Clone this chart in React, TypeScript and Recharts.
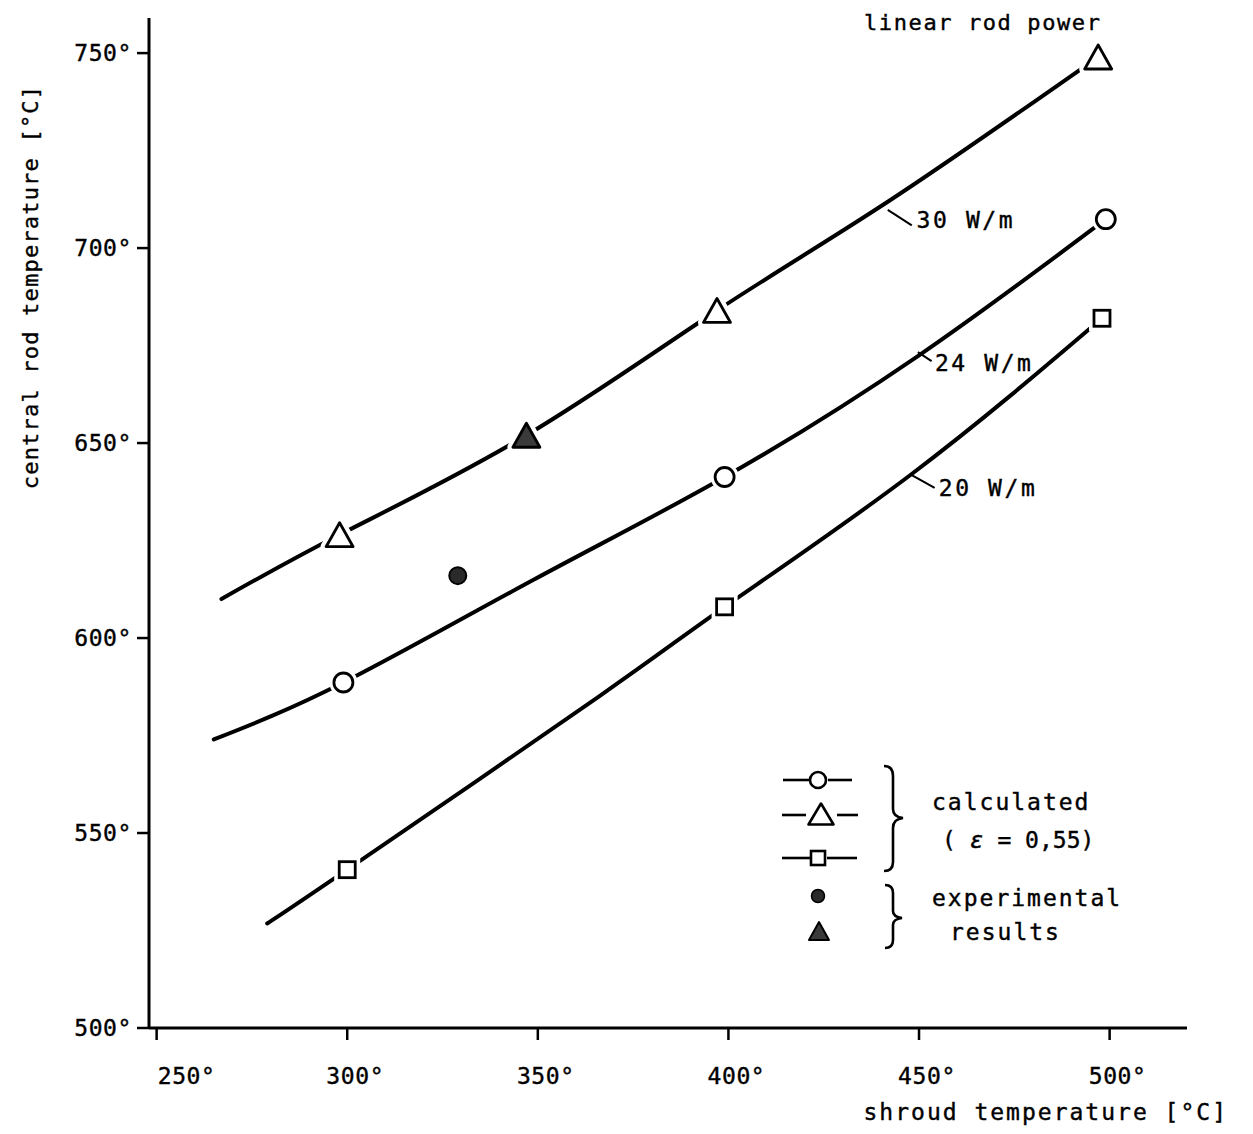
import React from 'react';
import {
  ComposedChart,
  Line,
  Scatter,
  XAxis,
  YAxis,
  ReferenceLine,
  ReferenceDot,
} from 'recharts';

// axis ticks
const shroudTicks = [250, 300, 350, 400, 450, 500];
const rodTicks = [500, 550, 600, 650, 700, 750];

// calculated curves (shroud temp -> central rod temp)
const w30Shroud = [267, 298, 347, 397, 442, 497];
const w30Rod = [610, 626.5, 652, 684, 712, 749];
const w24Shroud = [265, 299, 349, 399, 450, 499];
const w24Rod = [574, 588.6, 615, 641.3, 672.5, 707.4];
const w20Shroud = [279, 300, 366, 399, 448, 498];
const w20Rod = [526.8, 540.6, 585, 608, 642, 682];

// calculated markers
const calcCircleShroud = [299, 399, 499];
const calcCircleRod = [588.6, 641.3, 707.4];
const calcTriShroud = [298, 397, 497];
const calcTriRod = [626.5, 684, 749];
const calcSquareShroud = [300, 399, 498];
const calcSquareRod = [540.6, 608, 682];

// experimental results
const expCircleShroud = [329];
const expCircleRod = [616];
const expTriShroud = [347];
const expTriRod = [652];

// curve labels
const curveLabels = ['30 W/m', '24 W/m', '20 W/m'];

const FONT = '"DejaVu Sans Mono", "Liberation Mono", monospace';

const pts = (xs: number[], ys: number[]) => xs.map((x, i) => ({ x, y: ys[i] }));

const triPath = (cx: number, cy: number, w: number, h: number) =>
  `M${cx},${cy - h / 2} L${cx + w / 2},${cy + h / 2} L${cx - w / 2},${cy + h / 2} Z`;

function OpenTriangle(props: any) {
  const { cx, cy } = props;
  if (cx == null || cy == null) return null;
  const d = triPath(cx, cy, 27, 24);
  return (
    <g>
      <path d={d} fill="#fff" stroke="#fff" strokeWidth={11} strokeLinejoin="round" />
      <path d={d} fill="#fff" stroke="#000" strokeWidth={2.8} strokeLinejoin="round" />
    </g>
  );
}

function FilledTriangle(props: any) {
  const { cx, cy } = props;
  if (cx == null || cy == null) return null;
  const d = triPath(cx, cy, 27, 24);
  return (
    <g>
      <path d={d} fill="#fff" stroke="#fff" strokeWidth={11} strokeLinejoin="round" />
      <path d={d} fill="#3a3a3a" stroke="#000" strokeWidth={2.8} strokeLinejoin="round" />
    </g>
  );
}

function OpenCircle(props: any) {
  const { cx, cy } = props;
  if (cx == null || cy == null) return null;
  return (
    <g>
      <circle cx={cx} cy={cy} r={14} fill="#fff" />
      <circle cx={cx} cy={cy} r={9.5} fill="#fff" stroke="#000" strokeWidth={2.8} />
    </g>
  );
}

function FilledCircle(props: any) {
  const { cx, cy } = props;
  if (cx == null || cy == null) return null;
  return <circle cx={cx} cy={cy} r={8.5} fill="#2a2a2a" stroke="#000" strokeWidth={2} />;
}

function OpenSquare(props: any) {
  const { cx, cy } = props;
  if (cx == null || cy == null) return null;
  return (
    <g>
      <rect x={cx - 13} y={cy - 13} width={26} height={26} fill="#fff" />
      <rect x={cx - 8} y={cy - 8} width={16} height={16} fill="#fff" stroke="#000" strokeWidth={2.8} />
    </g>
  );
}

const tickText = { fill: '#000', stroke: '#000', strokeWidth: 0.4, fontSize: 23, fontFamily: FONT, letterSpacing: 0.6 };

function ShroudTick(props: any) {
  const { x, y, payload } = props;
  const dx = payload.value === 250 ? 30 : 8;
  return (
    <text x={x + dx} y={y} dy="0.71em" textAnchor="middle" {...tickText}>
      {`${payload.value}°`}
    </text>
  );
}

function Overlay() {
  const txt = { fontFamily: FONT, fill: '#000', stroke: '#000', strokeWidth: 0.4 } as const;
  return (
    <svg
      width={1253}
      height={1134}
      style={{ position: 'absolute', left: 0, top: 0, pointerEvents: 'none' }}
    >
      <text x={864} y={30} fontSize={22} letterSpacing={1.6} {...txt}>
        linear rod power
      </text>
      <text
        x={0}
        y={0}
        fontSize={22}
        letterSpacing={1.2}
        textAnchor="middle"
        transform="translate(38,287) rotate(-90)"
        {...txt}
      >
        central rod temperature [°C]
      </text>
      <text x={1228} y={1120} fontSize={23} letterSpacing={2} textAnchor="end" {...txt}>
        shroud temperature [°C]
      </text>

      {/* legend */}
      <g stroke="#000" strokeWidth={2.6} fill="none">
        <line x1={783} y1={780} x2={809} y2={780} />
        <line x1={828} y1={780} x2={852} y2={780} />
        <circle cx={818} cy={780} r={8} fill="#fff" />
        <line x1={782} y1={815} x2={806} y2={815} />
        <line x1={837} y1={815} x2={858} y2={815} />
        <path d={triPath(821, 814, 25, 21)} fill="#fff" strokeLinejoin="round" />
        <line x1={782} y1={858} x2={810} y2={858} />
        <line x1={827} y1={858} x2={857} y2={858} />
        <rect x={811} y={851} width={14} height={14} fill="#fff" />
        <circle cx={818} cy={896} r={6.5} fill="#2a2a2a" strokeWidth={1.5} />
        <path d={triPath(819, 931, 20, 18)} fill="#3a3a3a" strokeWidth={2} strokeLinejoin="round" />
        <path d="M884,766 Q893,766 893,776 L893,809 Q893,817 903,818 Q893,819 893,828 L893,862 Q893,871 884,871" />
        <path d="M885,885 Q893,885 893,893 L893,911 Q893,917 902,918 Q893,919 893,925 L893,940 Q893,948 885,948" />
      </g>
      <text x={932} y={810} fontSize={23} letterSpacing={2} {...txt}>
        calculated
      </text>
      <text x={942} y={848} fontSize={23} letterSpacing={0} {...txt}>
        ( <tspan fontStyle="italic">ε</tspan> = 0,55)
      </text>
      <text x={932} y={906} fontSize={23} letterSpacing={2} {...txt}>
        experimental
      </text>
      <text x={950} y={940} fontSize={23} letterSpacing={2} {...txt}>
        results
      </text>
    </svg>
  );
}

export default function App() {
  const labelStyle = { fill: '#000', stroke: '#000', strokeWidth: 0.4, fontSize: 23, fontFamily: FONT, letterSpacing: 2.6 };
  return (
    <div style={{ position: 'absolute', left: 0, top: 0, width: 1253, height: 1134, background: '#fff' }}>
      <ComposedChart width={1253} height={1134} margin={{ top: 18, right: 66, left: 89, bottom: 36 }}>
        <XAxis
          type="number"
          dataKey="x"
          domain={[248, 520.3]}
          allowDataOverflow
          ticks={shroudTicks}
          tick={<ShroudTick />}
          tickSize={12}
          tickMargin={28}
          height={70}
          axisLine={{ stroke: '#000', strokeWidth: 3 }}
          tickLine={{ stroke: '#000', strokeWidth: 2.5 }}
        />
        <YAxis
          type="number"
          dataKey="y"
          domain={[500, 759]}
          allowDataOverflow
          ticks={rodTicks}
          tickFormatter={(v) => `${v}°`}
          tickSize={12}
          tickMargin={5}
          width={60}
          axisLine={{ stroke: '#000', strokeWidth: 3 }}
          tickLine={{ stroke: '#000', strokeWidth: 2.5 }}
          tick={tickText}
        />

        <Line data={pts(w30Shroud, w30Rod)} dataKey="y" type="natural" stroke="#000" strokeWidth={4} strokeLinecap="round" dot={false} activeDot={false} isAnimationActive={false} />
        <Line data={pts(w24Shroud, w24Rod)} dataKey="y" type="natural" stroke="#000" strokeWidth={4} strokeLinecap="round" dot={false} activeDot={false} isAnimationActive={false} />
        <Line data={pts(w20Shroud, w20Rod)} dataKey="y" type="natural" stroke="#000" strokeWidth={4} strokeLinecap="round" dot={false} activeDot={false} isAnimationActive={false} />

        <ReferenceLine segment={[{ x: 441.8, y: 709.8 }, { x: 448.1, y: 705.8 }]} stroke="#000" strokeWidth={2} />
        <ReferenceLine segment={[{ x: 449.7, y: 673.3 }, { x: 453.3, y: 671 }]} stroke="#000" strokeWidth={2} />
        <ReferenceLine segment={[{ x: 448.1, y: 641.8 }, { x: 454.1, y: 638.5 }]} stroke="#000" strokeWidth={2} />
        <ReferenceDot x={449.1} y={707.3} r={1} fill="none" stroke="none" label={{ value: curveLabels[0], position: 'right', offset: 0, ...labelStyle }} />
        <ReferenceDot x={453.9} y={670.7} r={1} fill="none" stroke="none" label={{ value: curveLabels[1], position: 'right', offset: 0, ...labelStyle }} />
        <ReferenceDot x={454.9} y={638.5} r={1} fill="none" stroke="none" label={{ value: curveLabels[2], position: 'right', offset: 0, ...labelStyle }} />

        <Scatter data={pts(calcCircleShroud, calcCircleRod)} shape={OpenCircle} isAnimationActive={false} />
        <Scatter data={pts(calcTriShroud, calcTriRod)} shape={OpenTriangle} isAnimationActive={false} />
        <Scatter data={pts(calcSquareShroud, calcSquareRod)} shape={OpenSquare} isAnimationActive={false} />
        <Scatter data={pts(expCircleShroud, expCircleRod)} shape={FilledCircle} isAnimationActive={false} />
        <Scatter data={pts(expTriShroud, expTriRod)} shape={FilledTriangle} isAnimationActive={false} />
      </ComposedChart>
      <Overlay />
    </div>
  );
}
